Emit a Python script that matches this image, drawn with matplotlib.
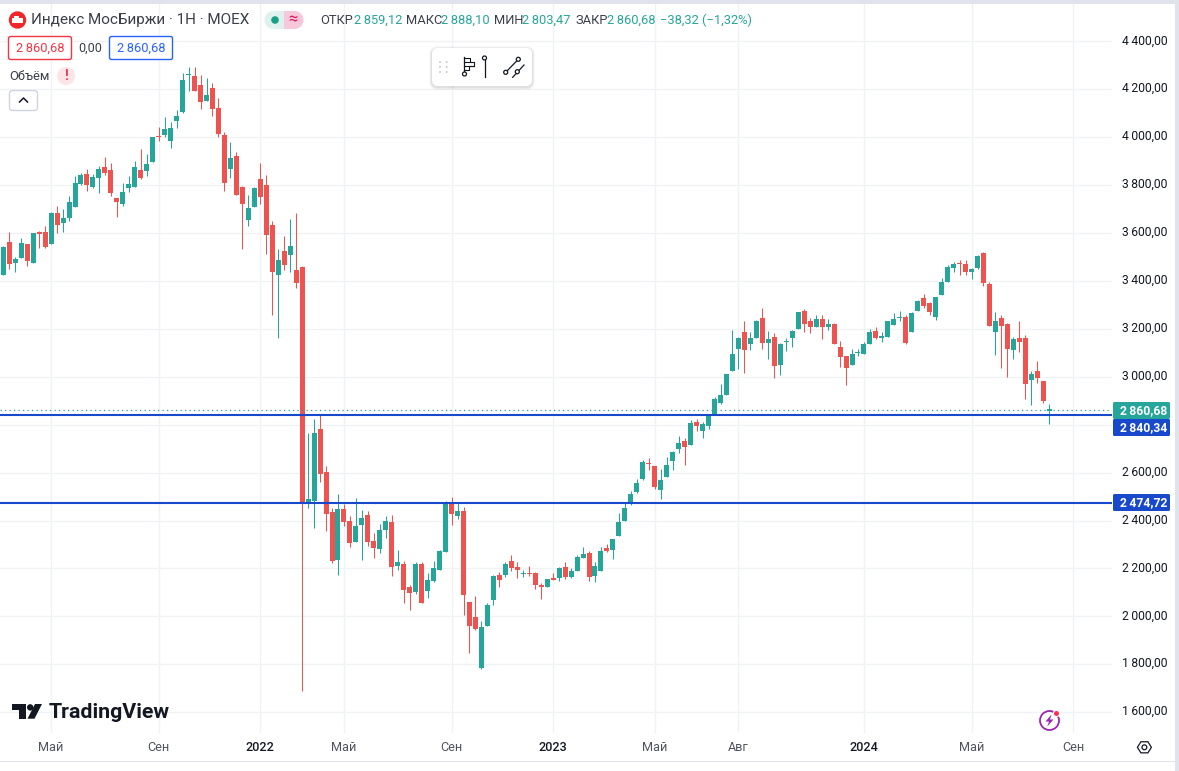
import numpy as np
import matplotlib
matplotlib.use("Agg")
import matplotlib.pyplot as plt
from matplotlib.patches import Circle, FancyBboxPatch, Polygon, Rectangle, Wedge
from matplotlib.transforms import ScaledTranslation

plt.rcParams['font.family'] = ['Roboto', 'DejaVu Sans']

# Weekly candles
opens = [3426, 3564, 3476, 3497, 3555, 3476, 3600, 3605, 3555, 3685,
         3643, 3664, 3710, 3806, 3847, 3793, 3831, 3876, 3864, 3747,
         3722, 3789, 3793, 3864, 3860, 3897, 4004, 4010, 3985, 4068,
         4106, 4260, 4256, 4218, 4151, 4206, 4122, 4010, 3868, 3922,
         3793, 3656, 3710, 3826, 3801, 3635, 3426, 3526, 3510, 3447,
         3460, 2468, 2481, 2781, 2601, 2435, 2235, 2447, 2397, 2310,
         2381, 2422, 2314, 2281, 2360, 2393, 2210, 2218, 2122, 2101,
         2218, 2105, 2147, 2193, 2268, 2476, 2418, 2439, 2060, 1997,
         1785, 1960, 2068, 2172, 2172, 2231, 2206, 2177, 2179, 2181,
         2131, 2122, 2156, 2160, 2206, 2164, 2189, 2243, 2264, 2168,
         2189, 2285, 2276, 2335, 2397, 2468, 2520, 2572, 2638, 2626,
         2526, 2581, 2647, 2697, 2731, 2714, 2810, 2772, 2793, 2839,
         2889, 2926, 3026, 3118, 3189, 3139, 3160, 3247, 3143, 3168,
         3051, 3145, 3164, 3201, 3276, 3235, 3206, 3243, 3206, 3222,
         3126, 3085, 3051, 3099, 3097, 3139, 3193, 3164, 3168, 3218,
         3245, 3251, 3185, 3276, 3331, 3310, 3251, 3343, 3397, 3456,
         3472, 3472, 3439, 3456, 3518, 3389, 3189, 3247, 3222, 3110,
         3164, 3164, 2985, 3026, 2981, 2859.12]
closes = [3543, 3472, 3493, 3560, 3485, 3601, 3598, 3543, 3685, 3635,
          3664, 3731, 3810, 3843, 3801, 3835, 3868, 3851, 3767, 3731,
          3772, 3806, 3876, 3831, 3889, 4001, 4001, 4035, 4039, 4089,
          4239, 4263, 4193, 4147, 4176, 4118, 4014, 3810, 3914, 3760,
          3722, 3706, 3789, 3751, 3593, 3439, 3489, 3468, 3547, 3393,
          2470, 2489, 2764, 2593, 2426, 2231, 2447, 2393, 2306, 2376,
          2410, 2310, 2285, 2360, 2397, 2205, 2226, 2110, 2097, 2218,
          2056, 2151, 2201, 2272, 2476, 2426, 2439, 2089, 1960, 1947,
          1955, 2047, 2168, 2151, 2218, 2201, 2193, 2179, 2177, 2131,
          2122, 2156, 2154, 2201, 2164, 2189, 2247, 2260, 2164, 2210,
          2272, 2272, 2322, 2393, 2451, 2510, 2558, 2643, 2635, 2539,
          2568, 2631, 2685, 2722, 2706, 2806, 2793, 2801, 2835, 2906,
          2926, 3010, 3097, 3160, 3110, 3160, 3235, 3143, 3156, 3047,
          3135, 3147, 3193, 3272, 3222, 3206, 3243, 3206, 3222, 3139,
          3081, 3035, 3097, 3101, 3139, 3189, 3164, 3166, 3231, 3243,
          3247, 3143, 3268, 3318, 3297, 3272, 3335, 3397, 3460, 3472,
          3470, 3439, 3451, 3506, 3393, 3214, 3235, 3214, 3114, 3156,
          3147, 2972, 3010, 2993, 2897, 2860.68]
highs = [3545, 3605, 3501, 3580, 3555, 3601, 3610, 3630, 3689, 3714,
         3701, 3756, 3839, 3851, 3868, 3847, 3881, 3918, 3893, 3747,
         3810, 3839, 3901, 3951, 3931, 4001, 4043, 4085, 4064, 4114,
         4267, 4293, 4293, 4260, 4247, 4226, 4164, 4022, 3981, 3939,
         3797, 3760, 3793, 3893, 3843, 3651, 3535, 3589, 3660, 3685,
         3464, 2764, 2822, 2839, 2626, 2451, 2510, 2468, 2418, 2493,
         2443, 2439, 2347, 2385, 2418, 2422, 2276, 2231, 2130, 2226,
         2226, 2180, 2231, 2276, 2481, 2497, 2472, 2456, 2060, 2085,
         1980, 2056, 2172, 2185, 2226, 2256, 2226, 2193, 2210, 2185,
         2139, 2156, 2181, 2206, 2226, 2201, 2256, 2289, 2272, 2226,
         2289, 2301, 2322, 2431, 2476, 2522, 2575, 2651, 2660, 2626,
         2614, 2664, 2689, 2751, 2743, 2818, 2826, 2810, 2843, 2914,
         2968, 3010, 3197, 3168, 3231, 3189, 3239, 3289, 3193, 3181,
         3143, 3164, 3197, 3272, 3285, 3247, 3260, 3256, 3243, 3226,
         3151, 3085, 3118, 3114, 3147, 3201, 3206, 3185, 3235, 3268,
         3276, 3256, 3272, 3322, 3347, 3314, 3335, 3414, 3468, 3481,
         3489, 3489, 3456, 3510, 3522, 3397, 3272, 3260, 3226, 3168,
         3231, 3176, 3026, 3064, 2981, 2888.10]
lows = [3424, 3451, 3439, 3497, 3464, 3476, 3539, 3539, 3555, 3601,
        3605, 3651, 3710, 3801, 3776, 3789, 3768, 3843, 3756, 3665,
        3714, 3772, 3793, 3826, 3839, 3897, 3985, 4001, 3956, 4039,
        4101, 4193, 4193, 4118, 4151, 4089, 4001, 3776, 3831, 3760,
        3535, 3631, 3710, 3722, 3514, 3260, 3160, 3447, 3439, 3372,
        1689, 2451, 2368, 2560, 2356, 2222, 2172, 2376, 2289, 2310,
        2235, 2293, 2243, 2264, 2326, 2168, 2193, 2056, 2026, 2093,
        2056, 2076, 2143, 2193, 2268, 2380, 2405, 2006, 1847, 1943,
        1780, 1960, 2047, 2122, 2164, 2189, 2160, 2164, 2168, 2114,
        2072, 2122, 2151, 2147, 2156, 2160, 2189, 2243, 2147, 2143,
        2189, 2268, 2239, 2335, 2397, 2464, 2516, 2568, 2610, 2530,
        2489, 2581, 2610, 2680, 2631, 2714, 2772, 2743, 2781, 2839,
        2885, 2926, 3026, 3031, 3018, 3110, 3160, 3118, 3076, 2993,
        3006, 3106, 3126, 3201, 3189, 3181, 3206, 3156, 3197, 3139,
        3043, 2964, 3051, 3085, 3097, 3139, 3156, 3147, 3168, 3218,
        3231, 3139, 3185, 3276, 3289, 3256, 3239, 3343, 3397, 3439,
        3426, 3426, 3410, 3451, 3381, 3214, 3089, 3035, 3001, 3076,
        3105, 2906, 2881, 2976, 2889, 2803.47]

price_ticks = [1600, 1800, 2000, 2200, 2400, 2600, 2800, 3000, 3200, 3400, 3600, 3800, 4000, 4200, 4400]
time_ticks = [8, 26, 43, 57, 75, 92, 109, 123, 144, 162, 179]
time_labels = ['Май', 'Сен', '2022', 'Май', 'Сен', '2023', 'Май', 'Авг', '2024', 'Май', 'Сен']
level_prices = [2840.34, 2474.72]
last_price = 2860.68

GREEN = '#26a69a'
RED = '#ef5350'
BLUE = '#1848cc'
GRID = '#f0f3f5'
PANEL = '#e0e3eb'
TEXT = '#131722'


def fmt(v):
    s = f"{v:,.2f}".replace(',', '\u2009').replace('.', ',')
    return s


opens = np.array(opens, dtype=float)
closes = np.array(closes, dtype=float)
highs = np.array(highs, dtype=float)
lows = np.array(lows, dtype=float)
xs = np.arange(len(opens))
colors = [GREEN if c >= o else RED for o, c in zip(opens, closes)]

fig = plt.figure(figsize=(11.79, 7.71), dpi=100, facecolor='white')

# main price pane, 5.977 px per bar, 0.2396 px per point
ax = fig.add_axes([0, (771 - 733) / 771, 1112 / 1179, 729 / 771])
ax.set_xlim(-0.55, 185.5)
ax.set_ylim(1513.4, 4556)
for spine in ax.spines.values():
    spine.set_visible(False)
ax.set_axisbelow(True)
ax.grid(True, color=GRID, linewidth=1)

ax.yaxis.tick_right()
ax.set_yticks(price_ticks)
# the 2 800,00 label sits under the level tag, the reference does not show it
ax.set_yticklabels(['' if p == 2800 else fmt(p) for p in price_ticks], fontsize=8.7, color=TEXT)
ax.tick_params(axis='y', length=0, pad=7)
for lab in ax.get_yticklabels():
    lab.set_transform(lab.get_transform() + ScaledTranslation(0, 1.5 / 72, fig.dpi_scale_trans))
ax.set_xticks(time_ticks)
ax.set_xticklabels(time_labels, fontsize=9.1, color='#50535e')
ax.tick_params(axis='x', length=0, pad=6)
for lab in ax.get_xticklabels():
    if lab.get_text().isdigit():
        lab.set_color(TEXT)
        lab.set_fontweight('medium')

ax.vlines(xs, lows, highs, colors=colors, linewidth=0.75, zorder=2)
bottoms = np.minimum(opens, closes)
heights = np.maximum(np.abs(closes - opens), 5)
ax.bar(xs, heights, bottom=bottoms, width=5 / 5.977, color=colors, linewidth=0, zorder=3)

ax.axhline(last_price, color=GREEN, linewidth=0.9, linestyle=(0, (1, 2.6)), zorder=4)
for level in level_prices:
    ax.axhline(level, color=BLUE, linewidth=1.5, zorder=5)

# everything around the pane is placed in pixels
ui = fig.add_axes([0, 0, 1, 1], facecolor='none')
ui.set_xlim(0, 1179)
ui.set_ylim(771, 0)
ui.axis('off')

ui.add_patch(Rectangle((0, 0), 1179, 4, color=PANEL, lw=0))
ui.add_patch(Rectangle((1175, 0), 4, 771, color=PANEL, lw=0))
ui.add_patch(Rectangle((0, 761), 1175, 1, color=PANEL, lw=0))


def box(x0, y0, x1, y1, fc, ec='none', r=2, lw=1.0, z=6):
    ui.add_patch(FancyBboxPatch((x0 + r, y0 + r), x1 - x0 - 2 * r, y1 - y0 - 2 * r,
                                boxstyle=f"round,pad={r},rounding_size={r}",
                                fc=fc, ec=ec, lw=lw, zorder=z))


def label(x, y, s, color=TEXT, size=9.1, ha='left', weight='normal', z=8):
    ui.text(x, y, s, color=color, fontsize=size, ha=ha, va='center', fontweight=weight, zorder=z)


# header
ui.add_patch(Circle((17.5, 20), 8.7, color='#f0262b', lw=0, zorder=7))
ui.add_patch(Rectangle((11.5, 17.5), 11, 5.5, color='white', lw=0, zorder=8))
ui.add_patch(Rectangle((14, 15.5), 5, 2.5, color='white', lw=0, zorder=8))
label(31, 20, 'Индекс МосБиржи · 1Н · MOEX', color='#3c3f4a', size=10.95)

ui.add_patch(Wedge((273.5, 20), 9, 90, 270, color='#def1ee', lw=0, zorder=6))
ui.add_patch(Rectangle((273.5, 11), 10.5, 18, color='#def1ee', lw=0, zorder=6))
ui.add_patch(Wedge((294.5, 20), 9, 270, 90, color='#f7c8da', lw=0, zorder=6))
ui.add_patch(Rectangle((284, 11), 10.5, 18, color='#f7c8da', lw=0, zorder=6))
ui.add_patch(Circle((275, 20), 3.8, color='#16a085', lw=0, zorder=7))
label(293, 19.5, '≈', color='#d81b60', size=12, ha='center')

ohlc = [(320, 'ОТКР', 353.5, '2\u2009859,12'), (406, 'МАКС', 440.7, '2\u2009888,10'),
        (494, 'МИН', 521.7, '2\u2009803,47'), (575.7, 'ЗАКР', 606.7, '2\u2009860,68')]
for x0, name, x1, val in ohlc:
    label(x0, 20.5, name, color='#3c3f4a', size=9.3)
    label(x1, 20.5, val, color=GREEN, size=9.3)
label(660, 20.5, '−38,32 (−1,32%)', color=GREEN, size=9.3)

box(8.5, 36.5, 71.5, 59.5, 'white', ec='#f23645')
label(40, 48.5, '2\u2009860,68', color='#f23645', size=9.3, ha='center')
label(90.5, 48.5, '0,00', size=9.1, ha='center', color='#3c3f4a')
box(109.5, 36.5, 172.5, 59.5, 'white', ec='#2962ff')
label(141, 48.5, '2\u2009860,68', color='#2962ff', size=9.3, ha='center')

label(9, 76.5, 'Объём', color='#3c3f4a', size=9.3)
ui.add_patch(Circle((66, 76), 9, color='#fde4e6', lw=0, zorder=7))
label(66, 76, '!', color='#e0405a', size=10, ha='center', weight='bold')
box(9.5, 90.5, 37.5, 110.5, 'white', ec='#d1d4dc', r=3)
ui.plot([19.5, 23.5, 27.5], [102, 98, 102], color=TEXT, lw=1.1, zorder=8)

# floating toolbar
for off, col, a in [(3, '#000000', 0.03), (2, '#000000', 0.04), (1, '#000000', 0.06)]:
    box(432 - off, 48 - off + 1, 532 + off, 86 + off + 1, col, r=6 + off, z=6)
    ui.patches[-1].set_alpha(a)
box(432, 48, 532, 86, 'white', r=6, z=7)
for dx in (440, 446.7):
    for dy in (62, 67, 72):
        ui.add_patch(Circle((dx, dy), 1, color='#c8cbd3', lw=0, zorder=8))
ICON = '#131722'
ui.plot([464, 464], [57, 72], color=ICON, lw=0.9, zorder=8)
ui.add_patch(Circle((464.5, 74), 2, fc='white', ec=ICON, lw=0.9, zorder=8))
ui.plot([464, 470, 470, 474, 474, 469, 469, 464], [57.5, 57.5, 61.5, 61.5, 65.5, 65.5, 69.5, 69.5],
        color=ICON, lw=0.8, zorder=8)
ui.plot([464, 474], [65.5, 65.5], color=ICON, lw=0.8, zorder=8)
ui.plot([464, 470], [61.5, 61.5], color=ICON, lw=0.8, zorder=8)
ui.plot([484.5, 484.5], [59, 77], color=ICON, lw=0.9, zorder=8)
ui.add_patch(Circle((484.5, 58), 2, fc='white', ec=ICON, lw=0.9, zorder=9))
ui.plot([505.7, 518.3], [72.3, 59.3], color=ICON, lw=0.9, zorder=8)
ui.plot([512.7, 524], [77.3, 65], color=ICON, lw=0.9, zorder=8)
for cx, cy in [(518.3, 59.3), (505.7, 72.3), (517.3, 71.7)]:
    ui.add_patch(Circle((cx, cy), 2, fc='white', ec=ICON, lw=0.9, zorder=9))

# last price and level labels on the scale
box(1113, 402, 1170, 419, GREEN, r=1.5)
label(1167, 410.5, fmt(last_price), color='white', size=8.7, ha='right', weight='bold')
box(1113, 419, 1170, 436, BLUE, r=1.5)
label(1167, 427.3, fmt(level_prices[0]), color='white', size=8.7, ha='right', weight='bold')
box(1113, 494, 1170, 511, BLUE, r=1.5)
label(1167, 502.5, fmt(level_prices[1]), color='white', size=8.7, ha='right', weight='bold')

# TradingView mark
LOGO = '#131722'
ui.add_patch(Polygon([(12, 704), (25.5, 704), (25.5, 718.7), (18.5, 718.7), (18.5, 710), (12, 710)],
                     color=LOGO, lw=0, zorder=8))
ui.add_patch(Circle((30.2, 707.4), 3.2, color=LOGO, lw=0, zorder=8))
ui.add_patch(Polygon([(35, 704), (42, 704), (34.5, 718.7), (27.5, 718.7)], color=LOGO, lw=0, zorder=8))
label(49, 712, 'TradingView', color=LOGO, size=15.4, weight='semibold')

# lightning badge
ui.add_patch(Circle((1049.5, 720.5), 9.5, fc='none', ec='#9c27b0', lw=1.3, zorder=8))
ui.add_patch(Polygon([(1051.5, 714.5), (1045.5, 721.5), (1049, 721.5), (1047.3, 726.5), (1053.5, 719.5), (1050, 719.5)],
                     color='#9c27b0', lw=0, zorder=9))
ui.add_patch(Circle((1056.5, 713.5), 3.6, color='white', lw=0, zorder=9))
ui.add_patch(Circle((1056.5, 713.5), 2.5, color='#f7324f', lw=0, zorder=10))

# settings gear
ang = np.deg2rad(np.arange(0, 360, 60))
ui.add_patch(Polygon(np.c_[1144.4 + 7 * np.cos(ang), 747.3 + 6.4 * np.sin(ang)], fc='none', ec=TEXT, lw=0.9, zorder=8))
ui.add_patch(Circle((1144.4, 747.3), 2.4, fc='none', ec=TEXT, lw=0.9, zorder=8))

fig.savefig('out.png', dpi=100)
